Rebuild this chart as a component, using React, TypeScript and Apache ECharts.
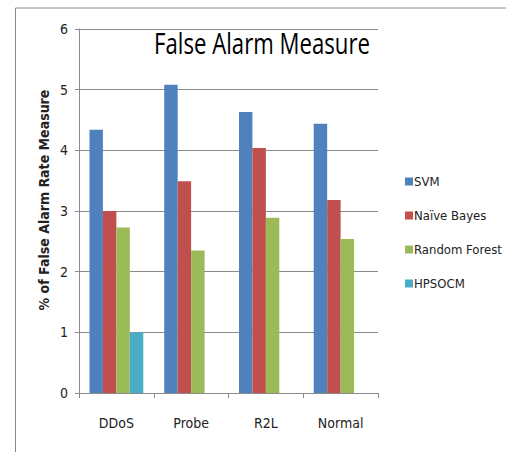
import React, { useEffect, useRef } from "react";
import * as echarts from "echarts";

const categories = ["DDoS", "Probe", "R2L", "Normal"];
const svm = [4.34, 5.08, 4.63, 4.44];
const naiveBayes = [3.0, 3.49, 4.04, 3.18];
const randomForest = [2.73, 2.35, 2.89, 2.54];
const hpsocm: (number | null)[] = [1.0, null, null, null];
const seriesNames = ["SVM", "Naïve Bayes", "Random Forest", "HPSOCM"];
const colors = ["#4F81BD", "#C0504D", "#9BBB59", "#4BACC6"];

const NARROW = '"DejaVu Sans Condensed", "Open Sans", sans-serif';

export default function App() {
  const ref = useRef<HTMLDivElement>(null);
  useEffect(() => {
    if (!ref.current) return;
    const chart = echarts.init(ref.current, null, { renderer: "svg" });
    const data = [svm, naiveBayes, randomForest, hpsocm];
    chart.setOption({
      animation: false,
      backgroundColor: "#ffffff",
      grid: { left: 79, right: 128, top: 29, bottom: 59, containLabel: false },
      legend: {
        orient: "vertical",
        left: 400,
        top: 170,
        itemWidth: 8,
        itemHeight: 8,
        itemGap: 21,
        icon: "rect",
        textStyle: { fontFamily: NARROW, fontSize: 13, color: "#222", padding: [0, 0, 0, -4] },
        data: seriesNames,
      },
      xAxis: {
        type: "category",
        data: categories,
        axisLine: { lineStyle: { color: "#8a8a8a", width: 1 } },
        axisTick: { show: true, length: 5, lineStyle: { color: "#8a8a8a" } },
        axisLabel: { margin: 23, fontFamily: NARROW, fontSize: 14, color: "#222" },
      },
      yAxis: {
        type: "value",
        min: 0,
        max: 6,
        interval: 1,
        axisLine: { show: true, lineStyle: { color: "#8a8a8a", width: 1 } },
        axisTick: { show: true, inside: false, length: 4, lineStyle: { color: "#8a8a8a" } },
        splitLine: { lineStyle: { color: "#8a8a8a", width: 1 } },
        axisLabel: { margin: 11, fontFamily: NARROW, fontSize: 14, color: "#222" },
      },
      series: data.map((d, i) => ({
        name: seriesNames[i],
        type: "bar",
        data: d,
        barGap: "0%",
        barCategoryGap: "28%",
        itemStyle: { color: colors[i] },
      })),
      graphic: [
        { type: "line", shape: { x1: 15.5, y1: 8, x2: 506, y2: 8 }, style: { stroke: "#888", lineWidth: 1 } },
        { type: "line", shape: { x1: 15.5, y1: 8, x2: 15.5, y2: 452 }, style: { stroke: "#888", lineWidth: 1 } },
        {
          type: "text",
          x: 262,
          y: 43,
          scaleX: 0.74,
          style: {
            text: "False Alarm Measure",
            font: '30px "Open Sans", sans-serif',
            fill: "#000",
            align: "center",
            verticalAlign: "middle",
          },
        },
        {
          type: "text",
          x: 44,
          y: 200,
          rotation: Math.PI / 2,
          style: {
            text: "% of False Alarm Rate Measure",
            font: 'bold 14px "DejaVu Sans Condensed", "Liberation Sans", Arial, sans-serif',
            fill: "#222",
            align: "center",
            verticalAlign: "middle",
          },
        },
      ],
    });
    return () => chart.dispose();
  }, []);
  return <div ref={ref} style={{ width: 506, height: 452, position: "absolute", left: 0, top: 0 }} />;
}
